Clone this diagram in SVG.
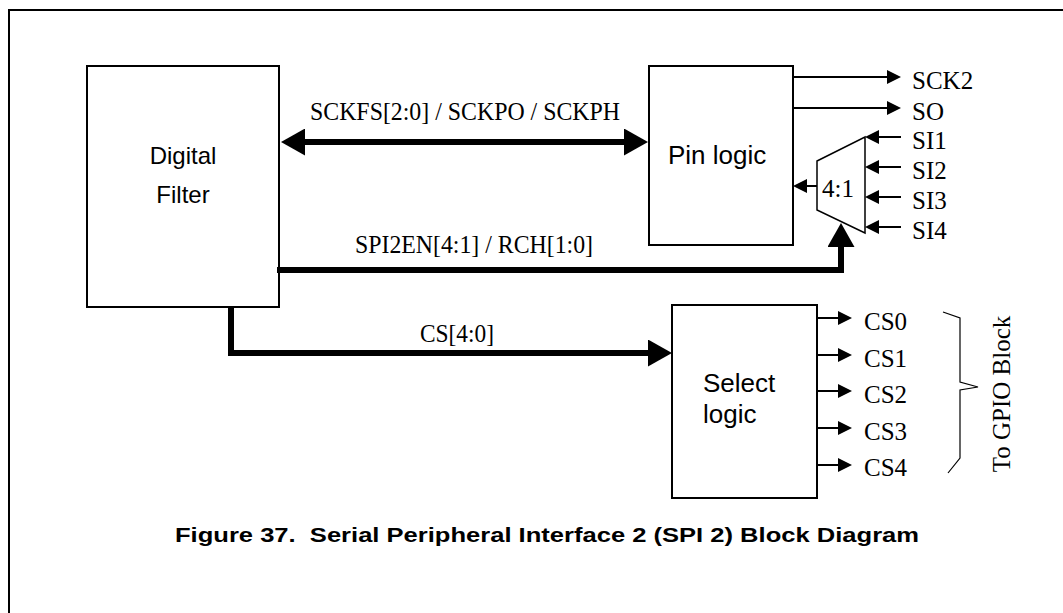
<svg xmlns="http://www.w3.org/2000/svg" width="1063" height="613" viewBox="0 0 1063 613">
<style>
.box{fill:#fff;stroke:#000;stroke-width:2}
.thin{fill:none;stroke:#000;stroke-width:2}
.thick{fill:none;stroke:#000;stroke-width:6;stroke-linejoin:miter}
.sans{font-family:"Liberation Sans",Arial,sans-serif;fill:#000}
.serif{font-family:"Liberation Serif","Times New Roman",serif;fill:#000;font-size:25px}
</style>
<defs>
<marker id="ah" markerUnits="userSpaceOnUse" markerWidth="14" markerHeight="14" refX="1" refY="7" orient="auto-start-reverse" viewBox="0 0 14 14"><path d="M0,0 L14,7 L0,14 z" fill="#000"/></marker>
<marker id="AH" markerUnits="userSpaceOnUse" markerWidth="24" markerHeight="27" refX="1" refY="13.5" orient="auto-start-reverse" viewBox="0 0 24 27"><path d="M0,0 L24,13.5 L0,27 z" fill="#000"/></marker>
</defs>
<rect width="1063" height="613" fill="#fff"/>
<path d="M9,613 L9,10 L1063,10" class="thin"/>

<g id="digital-filter">
<rect x="87" y="66" width="192" height="241" class="box"/>
<text x="183" y="164" class="sans" font-size="24" text-anchor="middle">Digital</text>
<text x="183" y="203" class="sans" font-size="24" text-anchor="middle">Filter</text>
</g>

<g id="pin-logic">
<rect x="649" y="66" width="144" height="179" class="box"/>
<text x="668" y="164" class="sans" font-size="26">Pin logic</text>
</g>

<g id="mux">
<path d="M817,161 L865,137 L865,233 L817,210 z" fill="#fff" stroke="#000" stroke-width="1.5"/>
<text x="822" y="197" class="serif" font-size="27">4:1</text>
</g>

<g id="select-logic">
<rect x="672" y="305" width="145" height="193" class="box"/>
<text x="703" y="392" class="sans" font-size="26">Select</text>
<text x="703" y="423" class="sans" font-size="26">logic</text>
</g>

<g id="connectors">
<path d="M304,142 L625,142" class="thick" marker-start="url(#AH)" marker-end="url(#AH)"/>
<path d="M277,270 L841,270 L841,246" class="thick" marker-end="url(#AH)"/>
<path d="M231,307 L231,353 L649,353" class="thick" marker-end="url(#AH)"/>
<path d="M793,77 L888,77" class="thin" marker-end="url(#ah)"/>
<path d="M793,108 L888,108" class="thin" marker-end="url(#ah)"/>
<path d="M817,186 L806,186" class="thin" marker-end="url(#ah)"/>
<path d="M901,137 L878,137" class="thin" marker-end="url(#ah)"/>
<path d="M901,167 L878,167" class="thin" marker-end="url(#ah)"/>
<path d="M901,197 L878,197" class="thin" marker-end="url(#ah)"/>
<path d="M901,227 L878,227" class="thin" marker-end="url(#ah)"/>
<path d="M817,318 L839,318" class="thin" marker-end="url(#ah)"/>
<path d="M817,355 L839,355" class="thin" marker-end="url(#ah)"/>
<path d="M817,391 L839,391" class="thin" marker-end="url(#ah)"/>
<path d="M817,428 L839,428" class="thin" marker-end="url(#ah)"/>
<path d="M817,465 L839,465" class="thin" marker-end="url(#ah)"/>
<path d="M943,312 L960,318 L960,382 L978,387 L960,390 L960,458 L948,473" fill="none" stroke="#000" stroke-width="1.2"/>
</g>

<g id="labels">
<text x="310" y="120" class="serif" textLength="310" lengthAdjust="spacingAndGlyphs">SCKFS[2:0] / SCKPO / SCKPH</text>
<text x="355" y="253" class="serif" textLength="238" lengthAdjust="spacingAndGlyphs">SPI2EN[4:1] / RCH[1:0]</text>
<text x="420" y="342" class="serif" textLength="74" lengthAdjust="spacingAndGlyphs">CS[4:0]</text>
<text x="912" y="89" class="serif">SCK2</text>
<text x="912" y="120" class="serif">SO</text>
<text x="912" y="149" class="serif">SI1</text>
<text x="912" y="179" class="serif">SI2</text>
<text x="912" y="209" class="serif">SI3</text>
<text x="912" y="239" class="serif">SI4</text>
<text x="864" y="330" class="serif">CS0</text>
<text x="864" y="367" class="serif">CS1</text>
<text x="864" y="403" class="serif">CS2</text>
<text x="864" y="440" class="serif">CS3</text>
<text x="864" y="476" class="serif">CS4</text>
<text x="1010" y="394" class="serif" font-size="26" text-anchor="middle" transform="rotate(-90 1010 394)">To GPIO Block</text>
<text x="175" y="542" class="sans" font-size="20" font-weight="bold" xml:space="preserve" textLength="744" lengthAdjust="spacingAndGlyphs">Figure 37.  Serial Peripheral Interface 2 (SPI 2) Block Diagram</text>
</g>
</svg>
